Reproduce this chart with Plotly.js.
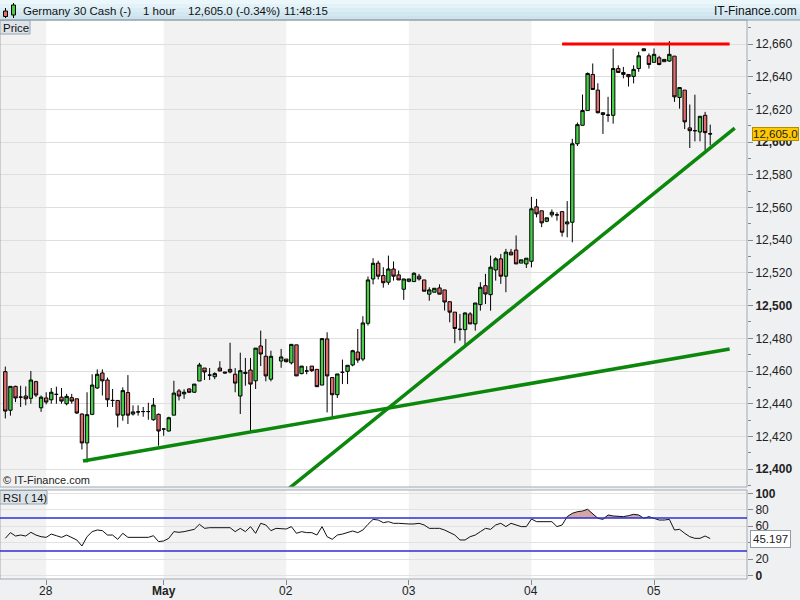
<!DOCTYPE html>
<html><head><meta charset="utf-8">
<script src="https://cdn.plot.ly/plotly-3.0.1.min.js"></script>
<style>html,body{margin:0;padding:0;background:#fff;} #chart{width:800px;height:600px;}</style>
</head><body><div id="chart"></div>
<script>
// ---- data (hourly candles, slot index 0..138; slot 53 has no candle) ----
const openP = [
12459.6,12436,12450.6,12444,12444.7,12443.3,12453.5,12437.5,12443.5,12442.4,
12445.7,12444,12440,12443.7,12443,12433.7,12416,12433.5,12449.6,12458.8,
12454.5,12442,12442,12433,12446.8,12433.7,12435,12435.2,12435.2,12430.2,
12433.5,12424.5,12423.3,12433,12447.8,12446,12449,12447,12453.9,12461.8,
12457.5,12456.5,12461.8,12459.4,12461,12458,12444.7,12459.2,12460.6,12454,
12475.3,12469,12455,null,12466.1,12467.3,12465,12476,12458.4,12460,
12463,12461,12451.4,12479.6,12456,12445.5,12459.2,12459.8,12463.7,12471.6,
12467.3,12489.2,12516.3,12526,12518.4,12514.3,12522.4,12518.8,12510,12514.9,
12514.7,12518,12515.7,12507,12508.2,12510.8,12509.6,12502.4,12496,12485.5,
12485.3,12494.9,12488.8,12500.6,12512.2,12506.7,12521.8,12528.6,12518,12532.7,
12534,12526,12525.5,12527.1,12560.4,12558,12551.6,12555.5,12555.5,12557.5,
12550,12551,12599,12610.3,12619.3,12641.4,12631.8,12618,12616.5,12616.4,
12645,12642.6,12641.4,12640.2,12645,12655.9,12652.8,12648.8,12651.6,12649.2,
12649.6,12652.6,12627.3,12631.8,12608.7,12607,12606.2,12616.4,12605.2];
const highP = [
12462.7,12450.6,12451,12451,12450.6,12460,12454,12445,12447,12449.6,
12450.4,12449.6,12446,12446,12443,12434,12447,12458,12461,12461,
12456,12449,12442,12450,12457.5,12439,12439,12438,12440.6,12443.5,
12434,12424.8,12432,12454,12449,12448.8,12449.5,12452,12465,12461.8,
12461.8,12459.2,12466,12459.4,12477.3,12461.8,12471.2,12468,12468,12474,
12484.7,12479.6,12472.4,null,12473.5,12467.3,12476.3,12476,12463,12463,
12463,12461,12480.2,12483.7,12456,12458.2,12467,12463.5,12473,12485.7,
12493.5,12517.8,12529,12527.5,12523.5,12530.6,12527,12521.5,12516.3,12516.3,
12520.4,12519.4,12515.7,12511.2,12510.6,12513,12509.6,12502.4,12496,12494.9,
12495.9,12496,12501.6,12514.3,12519.4,12530.6,12529.6,12531.6,12534.7,12534.7,
12542.9,12528,12529,12566.5,12565.3,12558,12553.7,12558.8,12557.1,12557.5,
12563.9,12602,12612,12629.1,12642.6,12648.1,12636,12618,12627.7,12657.3,
12647,12646,12641.4,12647,12655.3,12657.1,12654.3,12657.3,12652.8,12650.6,
12661.8,12652.6,12633.4,12631.8,12623,12629,12615.8,12618.5,12610.7];
const lowP = [
12431,12432.7,12441,12438,12439,12440,12444,12435,12439.6,12440,
12440,12440,12439,12440,12433.7,12412,12404,12433,12449,12445,
12438,12438,12425.5,12429.6,12427.6,12432.7,12432.7,12432,12430.2,12429.6,
12414.3,12420.4,12423,12433,12442,12443,12446.5,12446.7,12453.9,12454.5,
12454.5,12455,12460,12458.6,12458.6,12447,12433.7,12451,12423,12449,
12463,12453.7,12453.7,null,12462,12465.3,12464,12457,12458,12458,
12459.4,12450.4,12451.4,12434.7,12431.6,12443.5,12452,12452,12462.9,12465,
12466,12487.8,12513,12516,12511,12512.7,12515.3,12515.7,12503.5,12514.3,
12514.7,12515.3,12508.8,12503,12508.2,12507,12497,12489.8,12477,12478.6,
12475.5,12488.8,12484.7,12496.9,12501,12496.9,12515.3,12513.3,12508.2,12531,
12525.5,12526,12523,12523.4,12554,12548,12551,12554,12552,12542.2,
12541.8,12538.7,12597.6,12610.3,12619.3,12632.2,12617.5,12605,12612.4,12611.3,
12642.6,12639,12634,12635.9,12643,12655.9,12645,12648.8,12647,12649.2,
12649.2,12624.6,12620.5,12608,12596.4,12600.5,12600.5,12595,12598];
const closeP = [
12435.5,12450.6,12443.5,12444,12443,12454.5,12445.3,12444,12441,12447,
12445.7,12441.6,12444.5,12441.6,12434.3,12416,12433.3,12451.4,12458,12454,
12442.4,12442,12433,12448,12433,12435,12435,12435.2,12435.2,12439.2,
12423.3,12424.5,12431.4,12446.5,12444.7,12447,12447,12452,12463.7,12459.4,
12457.5,12458.4,12460,12458.8,12459.4,12452.6,12460.2,12458.6,12452,12474,
12470.4,12457,12469,null,12468.6,12465.7,12476.3,12457,12463,12460,
12460.2,12450.4,12479.8,12457,12445.5,12458.2,12459.2,12463.5,12472.4,12466.7,
12489.4,12515.7,12525.9,12518,12514,12522.4,12518,12515.7,12516.3,12516.3,
12519.8,12516.3,12508.8,12509.6,12510.6,12507,12502.2,12496,12486,12485.5,
12495.5,12488.8,12501.6,12511.2,12507.1,12523.5,12528.6,12518,12532.7,12531,
12525.5,12528,12529,12559.2,12556.1,12550.6,12553.7,12557.1,12555.5,12544.9,
12551.2,12599,12610.7,12619.3,12642,12632.2,12618,12616.9,12616.5,12645,
12642.6,12641.4,12640,12644.5,12652.8,12657.1,12647.5,12653.7,12647.5,12650.6,
12653.7,12627.7,12633.4,12612.4,12607,12607,12615.8,12605.8,12605];
const rsi14 = [
45.4,52.3,48.2,49.4,48.2,52.7,49.4,47.4,46.6,50.6,
48.6,46.6,49.4,46.6,43.4,36.1,47.4,53.5,55.5,54.7,
49.4,49.4,44.2,51.5,46.6,46.6,46.6,46.6,46.6,48.6,
41.4,42.2,45.4,53.5,52.7,53.5,54.7,56.3,62.4,57.5,
58.3,58.3,58.3,58.3,58.3,53.5,57.5,53.5,59.6,51.5,
63.6,61.6,54.7,57.5,57.5,56.7,59.6,51.5,53.5,52.3,
52.3,49.4,59.6,47.4,44.2,49.4,50.6,52.3,54.3,52.3,
55.5,62.4,68.4,67.6,64.4,65.6,63.6,63.6,62.8,62.8,
62.8,63.6,61.6,57.5,57.5,57.5,55.5,52.3,49.4,43.4,
43.4,47.4,49.4,53.5,57.5,56.3,61.6,63.6,59.6,63.6,
61.6,59.6,59.6,68.8,65.6,65.6,65.6,65.6,59.6,61.6,
71.7,75.7,77.7,78.5,80.6,75.7,69.7,68.4,73.7,72.5,
71.7,71.7,72.9,74.5,73.7,69.7,71.7,69.7,67.6,67.6,
68.4,55.5,56.3,51.5,47.4,45.4,45.4,48.2,45.197];
const dayTickIdx = [8, 31, 55, 79, 103, 127];
const dayTickText = ['28', '<b>May</b>', '02', '03', '04', '05'];
const priceTicks = [12400,12420,12440,12460,12480,12500,12520,12540,12560,12580,12600,12620,12640,12660];
const rsiTicks = [0, 20, 40, 60, 80, 100];
const rsiBands = [30, 70];
const lowTrendX = [15.2, 141.8],  lowTrendY = [12404.9, 12473.5];
const steepTrendX = [54.0, 142.8], steepTrendY = [12384.3, 12608.5];
const resistX = [109.0, 141.8],   resistY = [12660, 12660];
const headerParts = ['Germany 30 Cash (-)', '1 hour', '12,605.0 (-0.34%)', '11:48:15'];

// ---- geometry helpers (pixel -> paper) ----
const PW = 747, PH = 559, MT = 20;
const px = x => x / PW;
const py = y => (PH + MT - y) / PH;
const XR = [-1.04, 145.2];

// ---- build traces ----
const xs = [], o = [], h = [], l = [], c = [];
openP.forEach((v, i) => { if (v !== null) { xs.push(i); o.push(v); h.push(highP[i]); l.push(lowP[i]); c.push(closeP[i]); } });
const idx = rsi14.map((v, i) => i);
const fmt = v => v.toLocaleString('en-US', {minimumFractionDigits: 0, maximumFractionDigits: 1});

const traces = [
  {type: 'candlestick', x: xs, open: o, high: h, low: l, close: c, xaxis: 'x', yaxis: 'y',
   increasing: {line: {color: '#000', width: 1}, fillcolor: '#46CF46'},
   decreasing: {line: {color: '#000', width: 1}, fillcolor: '#E06C6C'},
   whiskerwidth: 0, hoverinfo: 'none', showlegend: false},
  {type: 'scatter', mode: 'lines', x: lowTrendX, y: lowTrendY, xaxis: 'x', yaxis: 'y',
   line: {color: '#0B870B', width: 3.5}, hoverinfo: 'none', showlegend: false},
  {type: 'scatter', mode: 'lines', x: steepTrendX, y: steepTrendY, xaxis: 'x', yaxis: 'y',
   line: {color: '#0B870B', width: 3.5}, hoverinfo: 'none', showlegend: false},
  {type: 'scatter', mode: 'lines', x: resistX, y: resistY, xaxis: 'x', yaxis: 'y',
   line: {color: '#FF0000', width: 3}, hoverinfo: 'none', showlegend: false, cliponaxis: false},
  {type: 'scatter', mode: 'lines', x: idx, y: idx.map(() => rsiBands[1]), xaxis: 'x', yaxis: 'y2',
   line: {width: 0}, hoverinfo: 'none', showlegend: false},
  {type: 'scatter', mode: 'lines', x: idx, y: rsi14.map(v => Math.max(v, rsiBands[1])), xaxis: 'x', yaxis: 'y2',
   fill: 'tonexty', fillcolor: '#D4A6A6', line: {width: 0}, hoverinfo: 'none', showlegend: false},
  {type: 'scatter', mode: 'lines', x: idx, y: rsi14, xaxis: 'x', yaxis: 'y2',
   line: {color: '#111', width: 1}, hoverinfo: 'none', showlegend: false}
];

// ---- shapes ----
const shapes = [];
const edges = [XR[0]].concat(dayTickIdx, [XR[1]]);
for (let k = 0; k < edges.length - 1; k += 2) {
  ['y domain', 'y2 domain'].forEach(yr => shapes.push({type: 'rect', xref: 'x', yref: yr, x0: edges[k], x1: edges[k + 1], y0: 0, y1: 1,
    fillcolor: '#F2F2F2', line: {width: 0}, layer: 'below'}));
}
['y domain', 'y2 domain'].forEach(yr => shapes.push({type: 'rect', xref: 'paper', yref: yr, x0: 0, x1: 1, y0: 0, y1: 1,
  fillcolor: 'rgba(0,0,0,0)', line: {color: '#A1AAB3', width: 1}, layer: 'above'}));
rsiBands.forEach(v => shapes.push({type: 'line', xref: 'paper', yref: 'y2', x0: 0, x1: 1, y0: v, y1: v,
  line: {color: '#2E2ED6', width: 1.5}, layer: 'above'}));
// header gradient
const hdr = ['#ECF7FB', '#E3F2F8', '#DBEDF4', '#D3E7F0', '#CCE2EC'];
hdr.forEach((col, k) => shapes.push({type: 'rect', xref: 'paper', yref: 'paper', x0: 0, x1: 800 / PW,
  y0: py(4 * k + 4), y1: py(4 * k), fillcolor: col, line: {width: 0}, layer: 'below'}));
shapes.push({type: 'line', xref: 'paper', yref: 'paper', x0: 0, x1: 800 / PW, y0: py(20), y1: py(20), line: {color: '#8E9BA6', width: 1}});
// header icon
shapes.push({type: 'line', xref: 'paper', yref: 'paper', x0: px(5.5), x1: px(5.5), y0: py(18), y1: py(8), line: {color: '#000', width: 1}});
shapes.push({type: 'rect', xref: 'paper', yref: 'paper', x0: px(3.5), x1: px(7.5), y0: py(16.5), y1: py(11), fillcolor: '#E06C6C', line: {color: '#000', width: 1}});
shapes.push({type: 'line', xref: 'paper', yref: 'paper', x0: px(13.5), x1: px(13.5), y0: py(18), y1: py(3), line: {color: '#000', width: 1}});
shapes.push({type: 'rect', xref: 'paper', yref: 'paper', x0: px(11.5), x1: px(15.5), y0: py(15), y1: py(5), fillcolor: '#46CF46', line: {color: '#000', width: 1}});
// panel label boxes
shapes.push({type: 'rect', xref: 'paper', yref: 'paper', x0: px(0), x1: px(30), y0: py(34), y1: py(20.5), fillcolor: '#DCE4EA', line: {color: '#98A4AE', width: 1}});
shapes.push({type: 'rect', xref: 'paper', yref: 'paper', x0: px(0), x1: px(47), y0: py(504), y1: py(490.5), fillcolor: '#DCE4EA', line: {color: '#98A4AE', width: 1}});

// ---- annotations ----
const hx = [23, 143, 188, 284];
const ann = headerParts.map((t, k) => ({xref: 'paper', yref: 'paper', x: px(hx[k] - 1), y: py(10.5), xanchor: 'left', yanchor: 'middle',
  text: t, showarrow: false, borderpad: 0, font: {size: 11.5, color: '#111'}}));
ann.push({xref: 'paper', yref: 'paper', x: px(798), y: py(10.5), xanchor: 'right', yanchor: 'middle', text: 'IT-Finance.com', showarrow: false, borderpad: 0, font: {size: 12, color: '#111'}});
ann.push({xref: 'paper', yref: 'paper', x: px(1.5), y: py(27.5), xanchor: 'left', yanchor: 'middle', text: 'Price', showarrow: false, borderpad: 0, font: {size: 11.5, color: '#111'}});
ann.push({xref: 'paper', yref: 'paper', x: px(1.5), y: py(497.5), xanchor: 'left', yanchor: 'middle', text: 'RSI ( 14)', showarrow: false, borderpad: 0, font: {size: 11, color: '#111', family: 'Liberation Sans Narrow, Liberation Sans'}});
ann.push({xref: 'paper', yref: 'paper', x: px(2), y: py(480), xanchor: 'left', yanchor: 'middle', text: '© IT-Finance.com', showarrow: false, borderpad: 0, font: {size: 11, color: '#222'}});
dayTickIdx.forEach((v, k) => ann.push({xref: 'x', yref: 'paper', x: v, y: py(591), xanchor: 'center', yanchor: 'middle',
  text: dayTickText[k], showarrow: false, borderpad: 0, font: {size: 12, color: '#222'}}));
const lastC = closeP[closeP.length - 1];
ann.push({xref: 'paper', yref: 'y', x: px(752), y: lastC, xanchor: 'left', yanchor: 'middle', text: lastC.toLocaleString('en-US', {minimumFractionDigits: 1}),
  showarrow: false, bgcolor: '#FFC800', bordercolor: '#B48C00', borderwidth: 1, borderpad: 0, font: {size: 11.5, color: '#222'}});
const lastR = rsi14[rsi14.length - 1];
ann.push({xref: 'paper', yref: 'y2', x: px(750), y: lastR, xanchor: 'left', yanchor: 'middle', text: String(lastR),
  showarrow: false, bgcolor: '#FFFFFF', bordercolor: '#8E9BA6', borderwidth: 1, borderpad: 2, font: {size: 11.5, color: '#222'}});

const layout = {
  width: 800, height: 600, margin: {l: 0, r: 53, t: MT, b: 21},
  paper_bgcolor: '#EEF0F2', plot_bgcolor: '#FFFFFF',
  font: {family: 'Liberation Sans, Arial, sans-serif', size: 12, color: '#222'},
  showlegend: false, hovermode: false, boxgap: 0.15, boxgroupgap: 0.22,
  xaxis: {domain: [0, 1], anchor: 'y2', range: XR, tickmode: 'array', tickvals: dayTickIdx, ticktext: dayTickText,
    showticklabels: false,
    ticks: 'outside', ticklen: 5, tickcolor: '#888', showgrid: false, zeroline: false, showline: false,
    rangeslider: {visible: false}, fixedrange: true},
  yaxis: {domain: [py(487), 1], anchor: 'x', side: 'right', range: [12389.05, 12674.7],
    tickmode: 'array', tickvals: priceTicks, ticktext: priceTicks.map(v => v % 100 === 0 ? '<b>' + fmt(v) + '</b>' : fmt(v)),
    ticks: 'outside', ticklen: 5, tickcolor: '#888', gridcolor: '#DEDEDE', zeroline: false, showline: false,
    minor: {tickmode: 'linear', tick0: 12390, dtick: 10, ticks: 'outside', ticklen: 3, tickcolor: '#888', showgrid: false},
    tickfont: {size: 12, color: '#222'}, fixedrange: true},
  yaxis2: {domain: [0, py(490)], anchor: 'x', side: 'right', range: [-3.9, 104],
    tickmode: 'array', tickvals: rsiTicks, ticktext: rsiTicks.map(v => (v === 0 || v === 100) ? '<b>' + v + '</b>' : String(v)),
    ticks: 'outside', ticklen: 5, tickcolor: '#888', gridcolor: '#E2E2E2', zeroline: false, showline: false,
    tickfont: {size: 12, color: '#222'}, fixedrange: true},
  shapes: shapes, annotations: ann
};
Plotly.newPlot('chart', traces, layout, {staticPlot: true, displayModeBar: false});
</script></body></html>
